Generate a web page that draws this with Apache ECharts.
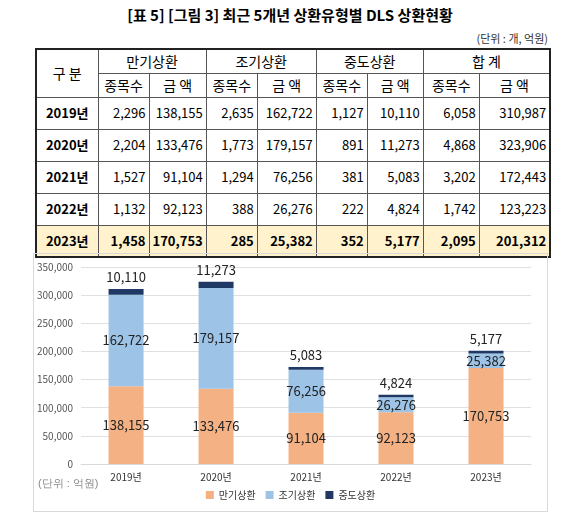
<!DOCTYPE html>
<html><head><meta charset="utf-8">
<script src="https://cdn.jsdelivr.net/npm/echarts@6/dist/echarts.min.js"></script>
<style>
body{margin:0;background:#fff;font-family:"Noto Sans CJK KR",sans-serif;}
#title{position:absolute;left:0;top:4px;width:580px;text-align:center;font-weight:bold;font-size:15px;}
#unit{position:absolute;right:32px;top:30px;font-size:11px;color:#333;}
table{position:absolute;left:35px;top:48px;border-collapse:collapse;font-size:13px;border:2px solid #222;}
td{border:1px solid #555;padding:0 3px;text-align:right;height:32px;line-height:14px;box-sizing:border-box;}
td.h{text-align:center;height:24px;font-size:14px;}
td.y{text-align:center;font-weight:bold;}
tr.last td{background:#FFF2CC;font-weight:bold;}
#chart{position:absolute;left:33px;top:253px;width:515px;height:259px;border:1px solid #d9d9d9;box-sizing:border-box;}
</style></head><body>
<div id="title">[표 5] [그림 3] 최근 5개년 상환유형별 DLS 상환현황</div>
<div id="unit">(단위 : 개, 억원)</div>
<table id="tbl"></table>
<div id="chart"></div>
<script>
var years = ['2019년','2020년','2021년','2022년','2023년'];
var maturityCount = [2296, 2204, 1527, 1132, 1458];
var maturityAmt = [138155, 133476, 91104, 92123, 170753];
var earlyCount = [2635, 1773, 1294, 388, 285];
var earlyAmt = [162722, 179157, 76256, 26276, 25382];
var midCount = [1127, 891, 381, 222, 352];
var midAmt = [10110, 11273, 5083, 4824, 5177];
var totalCount = [6058, 4868, 3202, 1742, 2095];
var totalAmt = [310987, 323906, 172443, 123223, 201312];
var seriesNames = ['만기상환','조기상환','중도상환'];

var f = function(v){ return v.toLocaleString('en-US'); };
var widths = [62,51,55,51,59,51,56,56,71];
var html = '<tr><td class="h" rowspan="2" style="width:'+widths[0]+'px">구 분</td>' +
  '<td class="h" colspan="2">만기상환</td><td class="h" colspan="2">조기상환</td>' +
  '<td class="h" colspan="2">중도상환</td><td class="h" colspan="2">합 계</td></tr><tr>';
for (var k = 0; k < 4; k++) {
  html += '<td class="h" style="width:'+widths[1+2*k]+'px">종목수</td><td class="h" style="width:'+widths[2+2*k]+'px">금 액</td>';
}
html += '</tr>';
years.forEach(function(y, i){
  html += '<tr' + (i === 4 ? ' class="last"' : '') + '><td class="y">' + y + '</td>' +
    [maturityCount[i], maturityAmt[i], earlyCount[i], earlyAmt[i], midCount[i], midAmt[i], totalCount[i], totalAmt[i]]
      .map(function(v){ return '<td>' + f(v) + '</td>'; }).join('') + '</tr>';
});
document.getElementById('tbl').innerHTML = html;

var lbl = {show:true, position:'inside', color:'#222', fontSize:13, formatter:function(p){return f(p.value);}};
var chart = echarts.init(document.getElementById('chart'));
chart.setOption({
  animation:false,
  textStyle:{fontFamily:'"Noto Sans CJK KR", sans-serif'},
  grid:{left:44, right:16, top:13, bottom:47},
  legend:{bottom:6, itemWidth:8, itemHeight:8, itemGap:10, icon:'rect', textStyle:{fontSize:10, color:'#333'}},
  graphic:[{type:'text', left:4, bottom:22, style:{text:'(단위 : 억원)', fill:'#888', fontSize:11}}],
  xAxis:{type:'category', data:years, axisTick:{show:false}, axisLine:{lineStyle:{color:'#d9d9d9'}},
    axisLabel:{color:'#333', fontSize:10}},
  yAxis:{type:'value', min:0, max:350000, interval:50000,
    axisLabel:{color:'#555', fontSize:10, formatter:function(v){return f(v);}},
    splitLine:{lineStyle:{color:'#e0e0e0'}}},
  series:[
    {name:seriesNames[0], type:'bar', stack:'a', barWidth:35, data:maturityAmt, itemStyle:{color:'#F4B183'}, label:lbl},
    {name:seriesNames[1], type:'bar', stack:'a', data:earlyAmt, itemStyle:{color:'#9DC3E6'}, label:lbl},
    {name:seriesNames[2], type:'bar', stack:'a', data:midAmt, itemStyle:{color:'#1F3864'},
      label:{show:true, position:'top', color:'#222', fontSize:13, formatter:function(p){return f(p.value);}}}
  ]
});
</script>
</body></html>
